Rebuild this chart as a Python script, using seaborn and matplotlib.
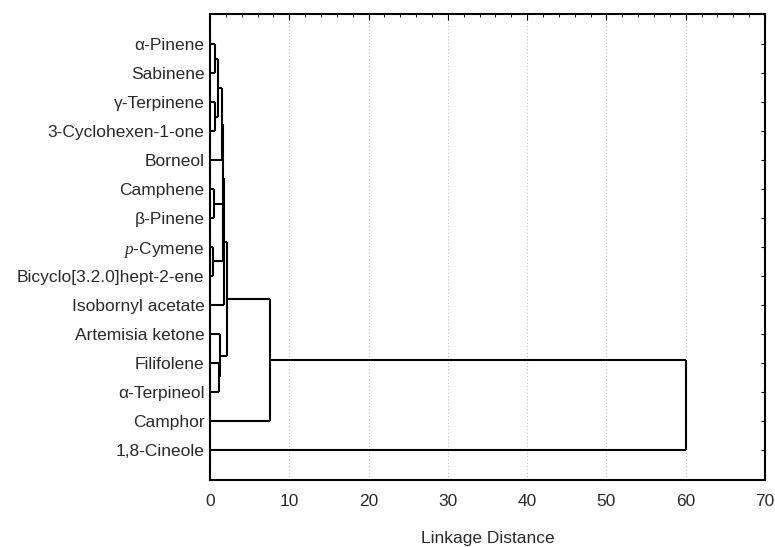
import matplotlib
matplotlib.use("Agg")
import matplotlib.pyplot as plt
from matplotlib.ticker import MultipleLocator
import seaborn as sns

# Style
sns.set_style("white")
plt.rcParams['font.family'] = ['Liberation Sans', 'DejaVu Sans']
plt.rcParams['mathtext.fontset'] = 'custom'
plt.rcParams['mathtext.it'] = 'Liberation Serif:italic'
plt.rcParams['mathtext.rm'] = 'Liberation Sans'

# Leaves, top to bottom
leaves = ['α-Pinene', 'Sabinene', 'γ-Terpinene', '3-Cyclohexen-1-one', 'Borneol',
          'Camphene', 'β-Pinene', r'$\it{p}$-Cymene', 'Bicyclo[3.2.0]hept-2-ene',
          'Isobornyl acetate', 'Artemisia ketone', 'Filifolene', 'α-Terpineol',
          'Camphor', '1,8-Cineole']

# Merges: node ids 0..14 are leaves, new nodes numbered from 15
merge_left = [0, 2, 15, 17, 5, 7, 19, 18, 22, 11, 10, 23, 26, 27]
merge_right = [1, 3, 16, 4, 6, 8, 20, 21, 9, 12, 24, 25, 13, 14]
merge_height = [0.6, 0.6, 0.95, 1.5, 0.55, 0.4, 1.6, 1.65, 1.7, 1.15, 1.3, 2.1, 7.6, 60.0]

x_ticks = [0, 10, 20, 30, 40, 50, 60, 70]

fig = plt.figure(figsize=(7.75, 5.47), dpi=100)
ax = fig.add_axes([0.271, 0.1225, 0.716, 0.852])

pos = {i: float(i) for i in range(len(leaves))}
hgt = {i: 0.0 for i in range(len(leaves))}
line_kw = dict(color='black', linewidth=1.5, solid_capstyle='butt', zorder=3)

for k, (a, b, h) in enumerate(zip(merge_left, merge_right, merge_height)):
    node = len(leaves) + k
    ax.plot([hgt[a], h], [pos[a], pos[a]], **line_kw)
    ax.plot([hgt[b], h], [pos[b], pos[b]], **line_kw)
    ax.plot([h, h], [pos[a], pos[b]], **line_kw)
    pos[node] = (pos[a] + pos[b]) / 2
    hgt[node] = h

ax.set_xlim(0, 70)
ax.set_ylim(len(leaves) - 1 + 1.05, -1.05)
ax.set_xticks(x_ticks)
ax.xaxis.set_minor_locator(MultipleLocator(2))
ax.set_yticks(range(len(leaves)))
ax.set_yticklabels(leaves)

ax.grid(axis='x', which='major', color='#c0c0c0', linestyle=(0, (1, 2)), linewidth=0.8, zorder=0)
ax.grid(axis='y', visible=False)

ax.tick_params(axis='both', which='both', direction='in', colors='black', labelcolor='#2a2a2a',
               labelsize=12.5, top=True, right=True)
ax.tick_params(axis='x', which='major', length=4, pad=10)
ax.tick_params(axis='x', which='minor', length=2.5)
ax.tick_params(axis='y', which='major', length=3, pad=4)

for sp in ax.spines.values():
    sp.set_visible(True)
    sp.set_color('black')
    sp.set_linewidth(1.5)

ax.set_xlabel('Linkage Distance', fontsize=12.5, color='#2a2a2a', labelpad=16)

plt.savefig('out.png', dpi=100)
plt.close()
